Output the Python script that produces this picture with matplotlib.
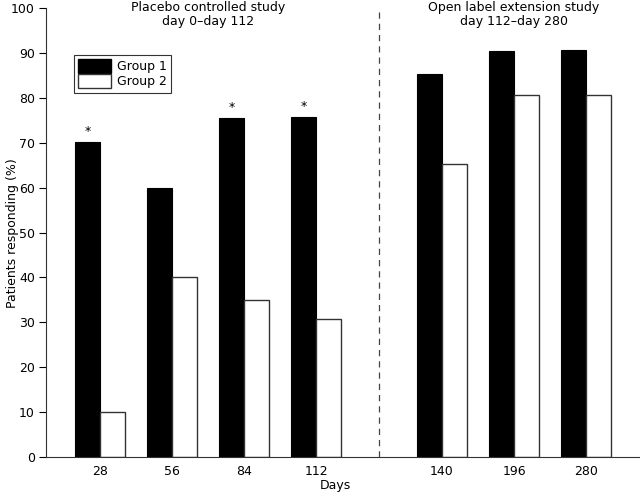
import numpy as np
import matplotlib
matplotlib.use("Agg")
import matplotlib.pyplot as plt
from matplotlib.patches import Patch

# data
days = ["28", "56", "84", "112", "140", "196", "280"]
group1 = [70.2, 60.0, 75.5, 75.7, 85.3, 90.4, 90.8]
group2 = [10.0, 40.0, 35.0, 30.7, 65.3, 80.8, 80.8]
significant = [True, False, True, True, False, False, False]
pos = [0, 1, 2, 3, 4.75, 5.75, 6.75]

plt.rcParams['font.family'] = ['DejaVu Sans']
plt.rcParams['font.size'] = 9

fig = plt.figure(figsize=(6.4, 4.95), dpi=100)
ax = fig.add_axes([0.072, 0.077, 0.928, 0.906])

w = 0.35
x = np.array(pos)
ax.bar(x - w/2, group1, w, color="black", edgecolor="black", linewidth=0.8)
ax.bar(x + w/2, group2, w, color="white", edgecolor="#333333", linewidth=1.0)

for xi, v, s in zip(x, group1, significant):
    if s:
        ax.text(xi - w/2, v + 1.0, "*", ha="center", va="bottom", fontsize=9)

ax.axvline(3.875, color="#444444", linestyle=(0, (5, 4)), linewidth=0.9)

ax.set_xlim(-0.75, 7.5)
ax.set_ylim(0, 100)
ax.set_yticks(np.arange(0, 101, 10))
ax.set_xticks(x)
ax.set_xticklabels(days)
ax.tick_params(axis="x", length=0, pad=6)
ax.tick_params(axis="y", direction="out", length=5, width=0.8, pad=3)
for side in ("top", "right"):
    ax.spines[side].set_visible(False)
for side in ("left", "bottom"):
    ax.spines[side].set_linewidth(0.8)
    ax.spines[side].set_color("#333333")

ax.set_xlabel("Days", va="center")
ax.xaxis.set_label_coords(0.487, -0.063)
ax.set_ylabel("Patients responding (%)", va="center")
ax.yaxis.set_label_coords(-0.057, 0.5)

ax.text(1.5, 101.7, "Placebo controlled study\nday 0\u2013day 112", ha="center", va="top",
        linespacing=1.15, clip_on=False)
ax.text(5.75, 101.7, "Open label extension study\nday 112\u2013day 280", ha="center", va="top",
        linespacing=1.15, clip_on=False)

handles = [Patch(facecolor="black", edgecolor="black", label="Group 1"),
           Patch(facecolor="white", edgecolor="#333333", label="Group 2")]
leg = ax.legend(handles=handles, loc="upper left", bbox_to_anchor=(0.047, 0.897),
                borderaxespad=0, fancybox=False, framealpha=1, edgecolor="#333333",
                handlelength=2.6, handleheight=1.3, borderpad=0.35, labelspacing=0.1,
                handletextpad=0.5)
leg.get_frame().set_linewidth(0.8)

fig.savefig("out.png", dpi=100)
